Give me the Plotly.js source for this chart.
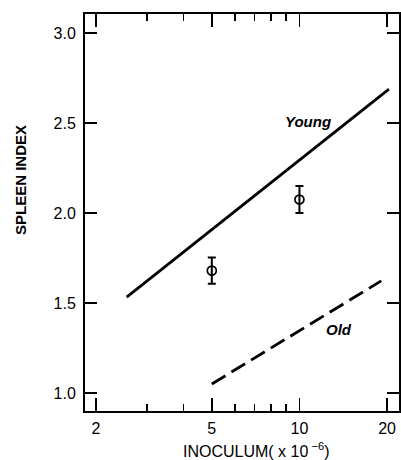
<!DOCTYPE html>
<html>
<head>
<meta charset="utf-8">
<script src="https://cdn.plot.ly/plotly-3.0.1.min.js"></script>
<style>html,body{margin:0;padding:0;background:#fff;}#chart{width:401px;height:460px;}</style>
</head>
<body>
<div id="chart"></div>
<script>
// Data
const youngX = [2.55, 20.3];
const youngY = [1.533, 2.688];
const oldX = [5.0, 19.1];
const oldY = [1.05, 1.623];
const pointX = [5, 10];
const pointY = [1.68, 2.075];
const pointErr = [0.073, 0.075];
const xTickVals = [2, 5, 10, 20];
const xTickText = ['2', '5', '10', '20'];
const xMinorVals = [3, 4, 6, 7, 8, 9];
const yTickVals = [1.0, 1.5, 2.0, 2.5, 3.0];
const yTickText = ['1.0', '1.5', '2.0', '2.5', '3.0'];
const xTitle = 'INOCULUM( x 10<sup> −6</sup>)';
const yTitle = 'SPLEEN INDEX';
const youngLabel = 'Young';
const oldLabel = 'Old';

const fam = 'Liberation Sans, Arial, sans-serif';
const ink = '#000';
const xRange = [Math.log10(1.834), Math.log10(21.98)];

const traces = [
  {x: youngX, y: youngY, mode: 'lines', line: {color: ink, width: 2.8}, hoverinfo: 'skip'},
  {x: oldX, y: oldY, mode: 'lines', line: {color: ink, width: 2.8, dash: '16px,7px'}, hoverinfo: 'skip'},
  {x: pointX, y: pointY, mode: 'markers',
   marker: {symbol: 'circle-open', size: 9, color: ink, line: {width: 1.7}},
   error_y: {type: 'data', array: pointErr, visible: true, color: ink, thickness: 2, width: 4}},
  // carrier trace for the minor-tick axis (not visible)
  {x: pointX, y: pointY, xaxis: 'x2', yaxis: 'y', mode: 'markers', marker: {opacity: 0}, hoverinfo: 'skip'}
];

const layout = {
  width: 401, height: 460,
  margin: {l: 85, r: 2, t: 14, b: 49},
  paper_bgcolor: '#fff', plot_bgcolor: '#fff',
  showlegend: false,
  font: {family: fam, color: ink},
  xaxis: {
    type: 'log',
    range: xRange,
    tickmode: 'array', tickvals: xTickVals, ticktext: xTickText,
    ticks: 'inside', ticklen: 13, tickwidth: 1.8, tickcolor: ink,
    showline: true, linecolor: ink, linewidth: 2, mirror: 'ticks',
    showgrid: false, zeroline: false,
    tickfont: {size: 16, family: fam, color: ink},
    ticklabelstandoff: 2
  },
  xaxis2: {
    type: 'log', overlaying: 'x', anchor: 'y', side: 'bottom',
    range: xRange,
    tickmode: 'array', tickvals: xMinorVals, showticklabels: false,
    ticks: 'inside', ticklen: 7, tickwidth: 1.5, tickcolor: ink,
    showline: true, linecolor: ink, linewidth: 2, mirror: 'ticks',
    showgrid: false, zeroline: false
  },
  yaxis: {
    range: [0.9, 3.106],
    tickmode: 'array', tickvals: yTickVals, ticktext: yTickText,
    ticks: 'inside', ticklen: 12, tickwidth: 1.8, tickcolor: ink,
    showline: true, linecolor: ink, linewidth: 2, mirror: 'ticks',
    showgrid: false, zeroline: false,
    tickfont: {size: 16, family: fam, color: ink},
    ticklabelstandoff: 4
  },
  annotations: [
    {xref: 'paper', yref: 'paper', x: (256 - 85) / 314, y: -(450 - 411) / 397,
     text: xTitle, showarrow: false, xanchor: 'center', yanchor: 'middle',
     font: {size: 16, family: fam, color: ink}},
    {xref: 'paper', yref: 'paper', x: -(85 - 20) / 314, y: (411 - 180) / 397,
     text: '<b>' + yTitle + '</b>', showarrow: false, textangle: -90, xanchor: 'center', yanchor: 'middle',
     font: {size: 15, family: fam, color: ink}},
    {x: Math.log10(10.7), y: 2.51, xref: 'x', yref: 'y', text: '<b><i>' + youngLabel + '</i></b>', showarrow: false,
     font: {size: 15, family: fam, color: ink}},
    {x: Math.log10(13.7), y: 1.355, xref: 'x', yref: 'y', text: '<b><i>' + oldLabel + '</i></b>', showarrow: false,
     font: {size: 15, family: fam, color: ink}}
  ]
};

Plotly.newPlot('chart', traces, layout, {displayModeBar: false, staticPlot: true});
</script>
</body>
</html>
